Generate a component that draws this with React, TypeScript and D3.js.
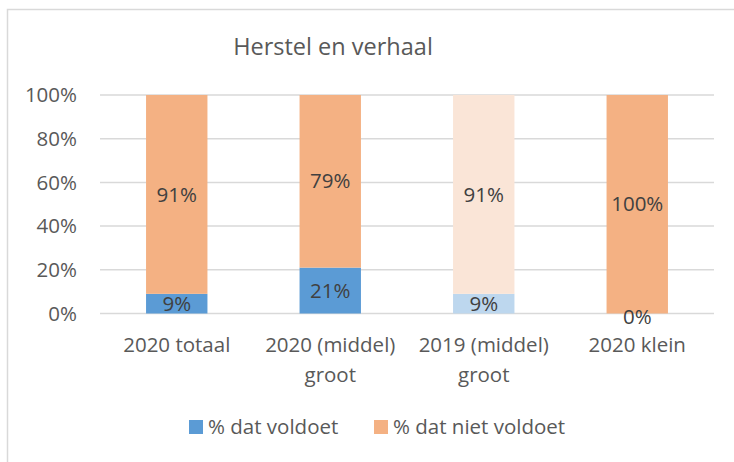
import * as d3 from 'd3';

const categories = [['2020 totaal'], ['2020 (middel)', 'groot'], ['2019 (middel)', 'groot'], ['2020 klein']];
const voldoet = [9, 21, 9, 0];
const nietVoldoet = [91, 79, 91, 100];
const yTicks = [0, 20, 40, 60, 80, 100];
const seriesNames = ['% dat voldoet', '% dat niet voldoet'];
const title = 'Herstel en verhaal';

const W = 734;
const H = 462;
const FONT = '"Open Sans", sans-serif';
const FS = 20.5;
const BLUE = '#5b9bd5';
const ORANGE = '#f4b183';
const BLUE_LIGHT = '#bdd7ee';
const ORANGE_LIGHT = '#fae5d7';

const App = () => {
  // plot area
  const left = 100, right = 714, top = 95, bottom = 313.5;

  const x = d3.scaleBand<number>()
    .domain(d3.range(categories.length))
    .range([left, right])
    .paddingInner(0.6)
    .paddingOuter(0.3);

  const y = d3.scaleLinear().domain([0, 100]).range([bottom, top]);

  const fill = (i: number, s: number) =>
    i === 2 ? (s === 0 ? BLUE_LIGHT : ORANGE_LIGHT) : (s === 0 ? BLUE : ORANGE);

  return (
    <svg width={W} height={H} style={{ position: 'absolute', left: 0, top: 0, background: '#fff' }} fontFamily={FONT}>
      <rect x={7.5} y={9.5} width={W} height={H} fill="#fff" stroke="#d9d9d9" strokeWidth={1.5} />
      <text x={333} y={47} dy="0.35em" textAnchor="middle" fontSize={23.5} fill="#595959">{title}</text>

      {yTicks.map((t) => (
        <g key={t}>
          <line x1={left} x2={right} y1={y(t)} y2={y(t)} stroke="#d9d9d9" strokeWidth={1.5} />
          <text x={77} y={y(t)} dy="0.35em" textAnchor="end" fontSize={FS} fill="#595959">{t}%</text>
        </g>
      ))}

      {categories.map((c, i) => {
        const x0 = x(i)!;
        const bw = x.bandwidth();
        const cx = x0 + bw / 2;
        const v = voldoet[i];
        const n = nietVoldoet[i];
        return (
          <g key={i}>
            <rect x={x0} width={bw} y={y(v)} height={y(0) - y(v)} fill={fill(i, 0)} />
            <rect x={x0} width={bw} y={y(v + n)} height={y(v) - y(v + n)} fill={fill(i, 1)} />
            <text x={cx} y={v === 0 ? y(0) + 3 : y(v / 2)} dy="0.35em" textAnchor="middle" fontSize={FS} fill="#404040">{v}%</text>
            <text x={cx} y={y(v + n / 2)} dy="0.35em" textAnchor="middle" fontSize={FS} fill="#404040">{n}%</text>
            {c.map((line, k) => (
              <text key={k} x={cx} y={345 + k * 30} dy="0.35em" textAnchor="middle" fontSize={FS} fill="#595959">{line}</text>
            ))}
          </g>
        );
      })}

      {seriesNames.map((s, k) => {
        const lx = k === 0 ? 189 : 374;
        return (
          <g key={s}>
            <rect x={lx} y={420} width={14} height={14} fill={k === 0 ? BLUE : ORANGE} />
            <text x={lx + 19} y={427} dy="0.35em" fontSize={FS} fill="#595959">{s}</text>
          </g>
        );
      })}
    </svg>
  );
};

export default App;
